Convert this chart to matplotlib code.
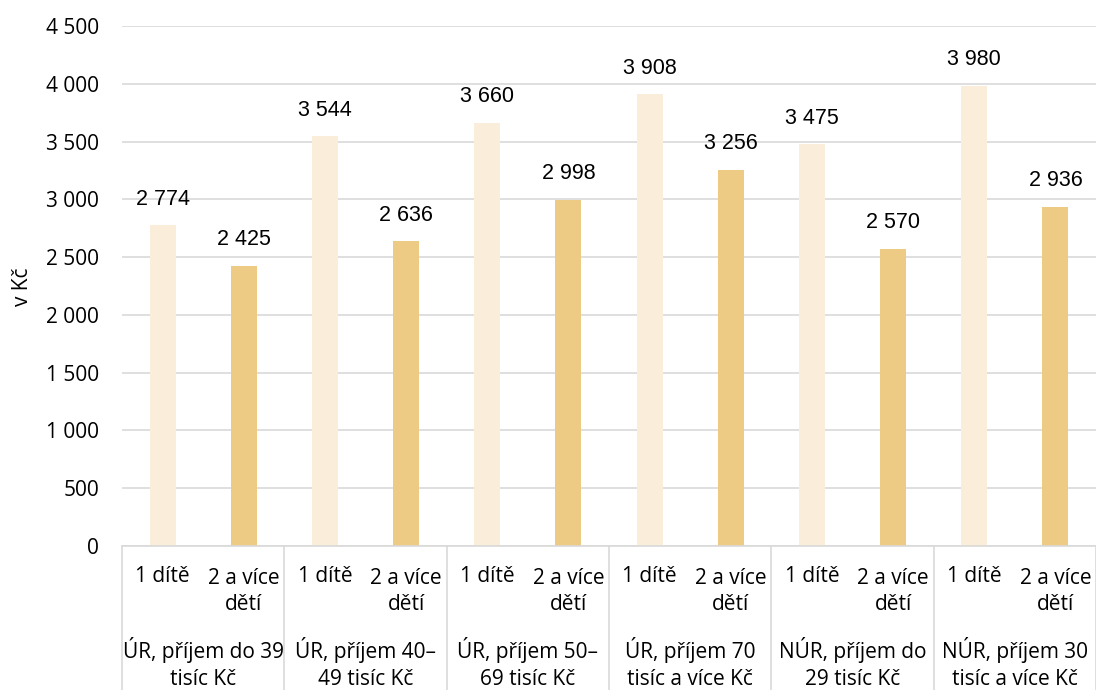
import numpy as np
import matplotlib.pyplot as plt
from matplotlib.transforms import blended_transform_factory

plt.rcParams['font.family'] = ['Open Sans', 'DejaVu Sans']

# data
groups = ["ÚR, příjem do 39\ntisíc Kč", "ÚR, příjem 40–\n49 tisíc Kč",
          "ÚR, příjem 50–\n69 tisíc Kč", "ÚR, příjem 70\ntisíc a více Kč",
          "NÚR, příjem do\n29 tisíc Kč", "NÚR, příjem 30\ntisíc a více Kč"]
sub_labels = ["1 dítě", "2 a více\ndětí"]
one_child = [2774, 3544, 3660, 3908, 3475, 3980]
two_more = [2425, 2636, 2998, 3256, 2570, 2936]
yticks = [0, 500, 1000, 1500, 2000, 2500, 3000, 3500, 4000, 4500]

c_light = "#FAEEDA"
c_dark = "#EDCB85"
grid_c = "#D9D9D9"

def fmt(v):
    return f"{v:,}".replace(",", " ")

fig = plt.figure(figsize=(10.96, 6.9), dpi=100)
ax = fig.add_axes([122/1096, 1 - 546/690, 1 - 122/1096, 520/690])

n = len(groups)
x1 = np.arange(n) * 2
x2 = x1 + 1
w = 0.32
ax.bar(x1, one_child, width=w, color=c_light, zorder=2)
ax.bar(x2, two_more, width=w, color=c_dark, zorder=2)

for xs, vals in [(x1, one_child), (x2, two_more)]:
    for xi, v in zip(xs, vals):
        ax.annotate(fmt(v), (xi, v), xytext=(0, 19), textcoords="offset points",
                    ha="center", va="center", fontsize=15.5, family="Liberation Sans")

ax.set_xlim(-0.5, 2 * n - 0.5)
ax.set_ylim(0, 4500)
ax.set_yticks(yticks)
ax.set_yticklabels([fmt(t) for t in yticks], fontsize=15)
ax.tick_params(axis="y", length=0, pad=16.5)
ax.set_xticks([])
ax.yaxis.grid(True, color=grid_c, linewidth=1.2, zorder=0)
for s in ["top", "right", "left"]:
    ax.spines[s].set_visible(False)
ax.spines["bottom"].set_color(grid_c)
ax.spines["bottom"].set_linewidth(1.2)
ax.spines["bottom"].set_zorder(3)

# multi-level category axis
tr = blended_transform_factory(ax.transData, ax.transAxes)
for i in range(n + 1):
    xb = 2 * i - 0.5
    ax.plot([xb, xb], [0, -0.3], color=grid_c, lw=1.2, transform=tr, clip_on=False)
for i in range(n):
    ax.text(x1[i], -0.0596, sub_labels[0], transform=tr, ha="center", va="center", fontsize=15)
    ax.text(x2[i], -0.088, sub_labels[1], transform=tr, ha="center", va="center",
            fontsize=15, linespacing=1.3)
    ax.text(x1[i] + 0.5, -0.226, groups[i], transform=tr, ha="center", va="center",
            fontsize=15, linespacing=1.4)

fig.text(22/1096, 1 - 287/690, "v Kč", rotation=90, ha="center", va="center", fontsize=15)

fig.savefig("out.png", dpi=100)
